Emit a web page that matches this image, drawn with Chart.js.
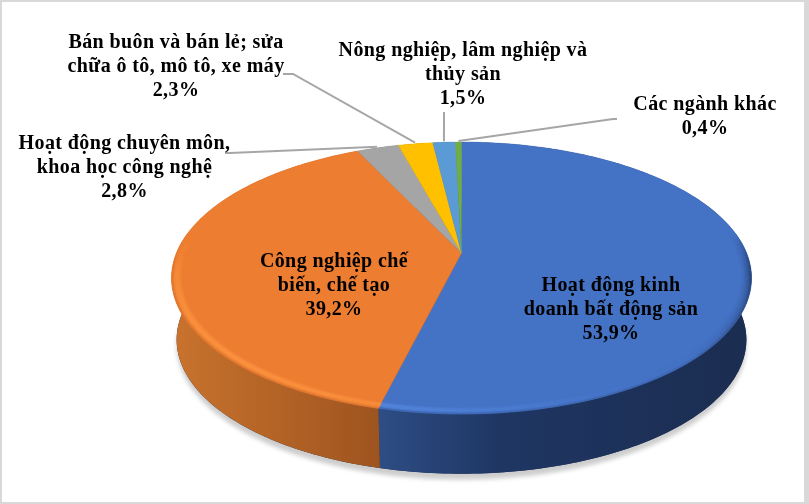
<!DOCTYPE html>
<html>
<head>
<meta charset="utf-8">
<script src="https://cdn.jsdelivr.net/npm/chart.js@4/dist/chart.umd.min.js"></script>
<style>
  html, body { margin: 0; padding: 0; background: #fff; }
  #frame { position: relative; width: 809px; height: 504px; box-sizing: border-box;
    border-style: solid; border-color: #d9d9d9; border-width: 2px 5px 2px 2px; overflow: hidden; }
  #pie { position: absolute; left: -2px; top: -2px; }
</style>
</head>
<body>
<div id="frame"><canvas id="pie" width="809" height="504"></canvas></div>
<script>
// data, clockwise from 12 o'clock
const categories = [
  ["Hoạt động kinh", "doanh bất động sản"],
  ["Công nghiệp chế", "biến, chế tạo"],
  ["Hoạt động chuyên môn,", "khoa học công nghệ"],
  ["Bán buôn và bán lẻ; sửa", "chữa ô tô, mô tô, xe máy"],
  ["Nông nghiệp, lâm nghiệp và", "thủy sản"],
  ["Các ngành khác"],
];
const shares = [53.9, 39.2, 2.8, 2.3, 1.5, 0.4];
const shareLabels = ["53,9%", "39,2%", "2,8%", "2,3%", "1,5%", "0,4%"];

// styles
const topColors = ["#4472c4", "#ed7d31", "#a5a5a5", "#ffc000", "#5b9bd5", "#70ad47"];
const rimLight = ["#5a8ee8", "#fb9340", "#b5b5b5", "#ffcf40", "#6fadea", "#80bd57"];
const rimDark = ["#1b2d50", "#9e541f", "#666666", "#997300", "#2f5f8f", "#43682b"];
const wallStops = [
  [[380, "#2d4d84"], [500, "#1f3663"], [750, "#1b2d50"]],
  [[175, "#c8722d"], [380, "#9e541f"]],
  [[0, "#666666"]], [[0, "#997300"]], [[0, "#2f5f8f"]], [[0, "#43682b"]],
];

// label layout: centre x, first line y, leader elbows
const labelX = [611, 334, 124.5, 176, 463, 705];
const labelY = [286, 262, 144, 43, 51, 105];
const leaders = [null, null, [[230, 153], [225, 153]], [[293, 74], [283, 74]], [[444, 112]], [[613, 119], [617, 119]]];

// perspective of the disc seen from above
const cx = 461.5, tilt = -0.184;
const topDisc = { y: 253, rx: 285, ry: 131.4 };
const baseDisc = { y: 315, rx: 280, ry: 129.5 };
const project = (disc, theta, r) => {
  const u = r * Math.sin(theta), v = -r * Math.cos(theta);
  const d = 1 + tilt * v;
  return [cx + disc.rx * u / d, disc.y + disc.ry * v / d];
};

const hex = c => [1, 3, 5].map(i => parseInt(c.slice(i, i + 2), 16));
const mix = (a, b, t) => {
  const ca = hex(a), cb = hex(b);
  return "rgb(" + ca.map((x, i) => Math.round(x + (cb[i] - x) * t)).join(",") + ")";
};
const toHex = c => "#" + c.match(/\d+/g).map(n => (+n).toString(16).padStart(2, "0")).join("");

const angles = (a, b, step) => {
  const out = [];
  const n = Math.max(2, Math.ceil((b - a) / step));
  for (let i = 0; i <= n; i++) out.push(a + (b - a) * i / n);
  return out;
};
const trace = (ctx, pts) => {
  ctx.beginPath();
  pts.forEach((p, i) => i ? ctx.lineTo(p[0], p[1]) : ctx.moveTo(p[0], p[1]));
  ctx.closePath();
};

const deg = Math.PI / 180;

const drawPie = {
  id: "drawPie",
  // the arcs come from the library, only their shape on screen is changed here
  beforeDatasetDraw(chart, args) {
    const ctx = chart.ctx;
    const arcs = args.meta.data.map((arc, i) => ({
      i, a: arc.startAngle + Math.PI / 2, b: arc.endAngle + Math.PI / 2,
    }));
    ctx.save();

    // ground shadow
    ctx.save();
    ctx.shadowColor = "rgba(0,0,0,0.2)";
    ctx.shadowBlur = 4;
    ctx.shadowOffsetY = 6;
    ctx.fillStyle = "#1b2d50";
    trace(ctx, angles(0, Math.PI * 2, deg).map(t => project(baseDisc, t, 1)));
    ctx.fill();
    ctx.restore();

    // walls
    arcs.forEach(({ i, a, b }) => {
      const ts = angles(a, b, deg);
      const pts = ts.map(t => project(topDisc, t, 1))
        .concat(ts.slice().reverse().map(t => project(baseDisc, t, 1)));
      const stops = wallStops[i];
      const x0 = stops[0][0], x1 = stops[stops.length - 1][0];
      const g = ctx.createLinearGradient(x0, 0, Math.max(x1, x0 + 1), 0);
      stops.forEach(s => g.addColorStop((s[0] - x0) / Math.max(x1 - x0, 1), s[1]));
      ctx.fillStyle = g;
      trace(ctx, pts);
      ctx.fill();
    });

    // top face
    arcs.forEach(({ i, a, b }) => {
      const pts = [project(topDisc, 0, 0)].concat(angles(a, b, deg).map(t => project(topDisc, t, 1)));
      ctx.fillStyle = topColors[i];
      ctx.strokeStyle = topColors[i];
      ctx.lineWidth = 0.4;
      trace(ctx, pts);
      ctx.fill();
      ctx.stroke();
    });

    // bevel round the front edge
    const rings = 6, inner = 0.965;
    arcs.forEach(({ i, a, b }) => {
      const ts = angles(a, b, deg);
      for (let k = 0; k < rings; k++) {
        const rr = (k + 0.5) / rings;
        const r0 = inner + (1 - inner) * k / rings, r1 = inner + (1 - inner) * (k + 1) / rings;
        for (let j = 0; j < ts.length - 1; j++) {
          const t = (ts[j] + ts[j + 1]) / 2;
          const s = Math.cos(t - 225 * deg);
          const fade = Math.min(1, Math.max(0, (-Math.cos(t) + 0.15) / 0.3));
          if (fade <= 0) continue;
          let c;
          if (s > 0) c = mix(topColors[i], rimLight[i], s * s * fade * Math.sin(Math.PI * Math.min(1, rr * 1.05)));
          else c = mix(topColors[i], rimDark[i], -s * fade * Math.pow(rr, 1.5) * 1.1);
          c = mix(toHex(c), rimDark[i], fade * Math.max(0, rr - 0.85) * 2.2);
          ctx.fillStyle = c;
          ctx.strokeStyle = c;
          ctx.lineWidth = 0.4;
          trace(ctx, [project(topDisc, ts[j], r0), project(topDisc, ts[j + 1], r0),
            project(topDisc, ts[j + 1], r1), project(topDisc, ts[j], r1)]);
          ctx.fill();
          ctx.stroke();
        }
      }
    });

    // leader lines
    ctx.strokeStyle = "#a6a6a6";
    ctx.lineWidth = 2;
    arcs.forEach(({ i, a, b }) => {
      if (!leaders[i]) return;
      const end = project(topDisc, (a + b) / 2, 1.012);
      ctx.beginPath();
      ctx.moveTo(end[0], end[1]);
      leaders[i].forEach(p => ctx.lineTo(p[0], p[1]));
      ctx.stroke();
    });

    // labels
    ctx.fillStyle = "#000";
    ctx.font = "bold 20px 'Liberation Serif'";
    ctx.letterSpacing = "0.4px";
    ctx.textAlign = "center";
    ctx.textBaseline = "middle";
    categories.forEach((lines, i) => {
      lines.concat(shareLabels[i]).forEach((line, n) => {
        ctx.fillText(line, labelX[i], labelY[i] + n * 24);
      });
    });

    ctx.restore();
    return false;
  },
};

new Chart(document.getElementById("pie"), {
  type: "pie",
  plugins: [drawPie],
  data: {
    labels: categories.map(c => c.join(" ")),
    datasets: [{ data: shares, backgroundColor: topColors, borderWidth: 0 }],
  },
  options: {
    responsive: false,
    animation: false,
    rotation: 0,
    plugins: { legend: { display: false }, tooltip: { enabled: false } },
  },
});
</script>
</body>
</html>
